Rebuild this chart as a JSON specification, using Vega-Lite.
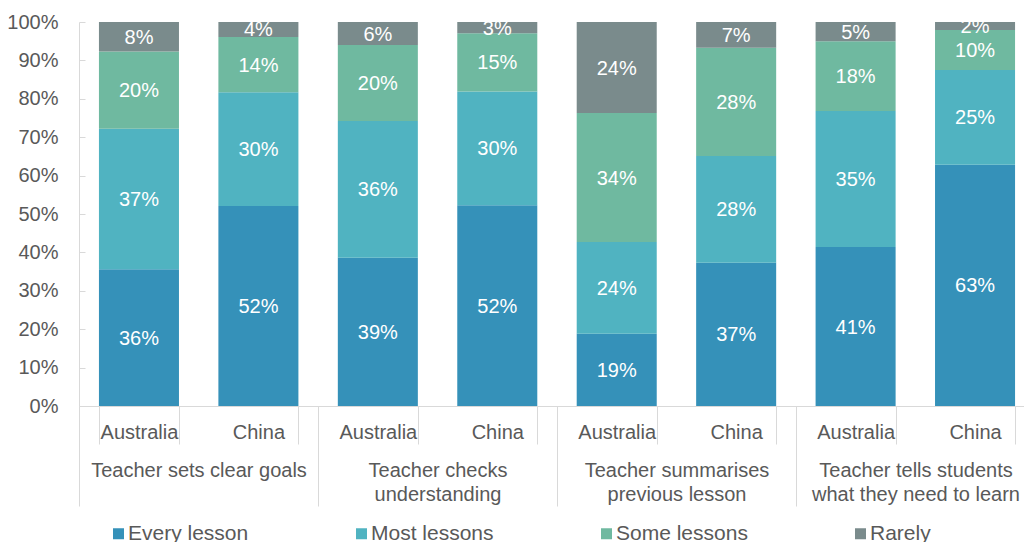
{
  "$schema": "https://vega.github.io/schema/vega-lite/v6.json",
  "width": 945,
  "height": 384,
  "autosize": {"type": "none"},
  "padding": {"left": 79, "top": 22, "right": 0, "bottom": 136},
  "config": {
    "view": {"stroke": null},
    "font": "Liberation Sans",
    "axis": {"labelFont": "Liberation Sans", "labelColor": "#595959", "labelFontSize": 20, "domainColor": "#d9d9d9", "tickColor": "#d9d9d9", "grid": false, "title": null, "labelLimit": 0, "labelOverlap": false}
  },
  "data": {
    "values": [
      {"group": "Teacher sets clear goals", "bar": "1 Australia", "freq": "Every lesson", "ord": 1, "value": 0.356},
      {"group": "Teacher sets clear goals", "bar": "1 Australia", "freq": "Most lessons", "ord": 2, "value": 0.366},
      {"group": "Teacher sets clear goals", "bar": "1 Australia", "freq": "Some lessons", "ord": 3, "value": 0.201},
      {"group": "Teacher sets clear goals", "bar": "1 Australia", "freq": "Rarely", "ord": 4, "value": 0.077},
      {"group": "Teacher sets clear goals", "bar": "1 China", "freq": "Every lesson", "ord": 1, "value": 0.521},
      {"group": "Teacher sets clear goals", "bar": "1 China", "freq": "Most lessons", "ord": 2, "value": 0.296},
      {"group": "Teacher sets clear goals", "bar": "1 China", "freq": "Some lessons", "ord": 3, "value": 0.144},
      {"group": "Teacher sets clear goals", "bar": "1 China", "freq": "Rarely", "ord": 4, "value": 0.039},
      {"group": "Teacher checks|understanding", "bar": "2 Australia", "freq": "Every lesson", "ord": 1, "value": 0.386},
      {"group": "Teacher checks|understanding", "bar": "2 Australia", "freq": "Most lessons", "ord": 2, "value": 0.356},
      {"group": "Teacher checks|understanding", "bar": "2 Australia", "freq": "Some lessons", "ord": 3, "value": 0.198},
      {"group": "Teacher checks|understanding", "bar": "2 Australia", "freq": "Rarely", "ord": 4, "value": 0.060},
      {"group": "Teacher checks|understanding", "bar": "2 China", "freq": "Every lesson", "ord": 1, "value": 0.523},
      {"group": "Teacher checks|understanding", "bar": "2 China", "freq": "Most lessons", "ord": 2, "value": 0.296},
      {"group": "Teacher checks|understanding", "bar": "2 China", "freq": "Some lessons", "ord": 3, "value": 0.152},
      {"group": "Teacher checks|understanding", "bar": "2 China", "freq": "Rarely", "ord": 4, "value": 0.029},
      {"group": "Teacher summarises|previous lesson", "bar": "3 Australia", "freq": "Every lesson", "ord": 1, "value": 0.188},
      {"group": "Teacher summarises|previous lesson", "bar": "3 Australia", "freq": "Most lessons", "ord": 2, "value": 0.239},
      {"group": "Teacher summarises|previous lesson", "bar": "3 Australia", "freq": "Some lessons", "ord": 3, "value": 0.336},
      {"group": "Teacher summarises|previous lesson", "bar": "3 Australia", "freq": "Rarely", "ord": 4, "value": 0.237},
      {"group": "Teacher summarises|previous lesson", "bar": "3 China", "freq": "Every lesson", "ord": 1, "value": 0.373},
      {"group": "Teacher summarises|previous lesson", "bar": "3 China", "freq": "Most lessons", "ord": 2, "value": 0.278},
      {"group": "Teacher summarises|previous lesson", "bar": "3 China", "freq": "Some lessons", "ord": 3, "value": 0.282},
      {"group": "Teacher summarises|previous lesson", "bar": "3 China", "freq": "Rarely", "ord": 4, "value": 0.067},
      {"group": "Teacher tells students|what they need to learn", "bar": "4 Australia", "freq": "Every lesson", "ord": 1, "value": 0.414},
      {"group": "Teacher tells students|what they need to learn", "bar": "4 Australia", "freq": "Most lessons", "ord": 2, "value": 0.354},
      {"group": "Teacher tells students|what they need to learn", "bar": "4 Australia", "freq": "Some lessons", "ord": 3, "value": 0.182},
      {"group": "Teacher tells students|what they need to learn", "bar": "4 Australia", "freq": "Rarely", "ord": 4, "value": 0.050},
      {"group": "Teacher tells students|what they need to learn", "bar": "4 China", "freq": "Every lesson", "ord": 1, "value": 0.628},
      {"group": "Teacher tells students|what they need to learn", "bar": "4 China", "freq": "Most lessons", "ord": 2, "value": 0.247},
      {"group": "Teacher tells students|what they need to learn", "bar": "4 China", "freq": "Some lessons", "ord": 3, "value": 0.104},
      {"group": "Teacher tells students|what they need to learn", "bar": "4 China", "freq": "Rarely", "ord": 4, "value": 0.021}
    ]
  },
  "layer": [
    {
      "layer": [
        {
          "mark": {"type": "bar"},
          "encoding": {
            "x": {
              "field": "bar", "type": "nominal", "sort": null,
              "scale": {"type": "band", "paddingInner": 0.33, "paddingOuter": 0.167, "range": [0, 956]},
              "axis": {"orient": "bottom", "labelAngle": 0, "tickBand": "extent", "tickSize": 38, "labelPadding": -22, "labelExpr": "slice(datum.label, 2)"}
            },
            "y": {
              "field": "value", "type": "quantitative", "stack": "zero",
              "scale": {"domain": [0, 1], "nice": false},
              "axis": {"format": ".0%", "values": [0, 0.1, 0.2, 0.3, 0.4, 0.5, 0.6, 0.7, 0.8, 0.9, 1], "labelOverlap": false, "labelBound": false, "tickSize": -6, "labelPadding": 27}
            },
            "color": {
              "field": "freq", "type": "nominal",
              "scale": {"domain": ["Every lesson", "Most lessons", "Some lessons", "Rarely"], "range": ["#3591b9", "#50b3c1", "#6fb9a0", "#7a8b8c"]},
              "legend": {"orient": "none", "legendX": 29, "legendY": 501, "direction": "horizontal", "title": null, "symbolType": "square", "symbolSize": 121, "symbolStrokeWidth": 0, "labelFontSize": 21, "labelColor": "#595959", "labelFont": "Liberation Sans", "columnPadding": 102, "labelOffset": -1, "labelLimit": 0}
            },
            "order": {"field": "ord", "type": "quantitative"}
          }
        },
        {
          "mark": {"type": "text", "color": "white", "fontSize": 20, "baseline": "middle", "dy": 1},
          "encoding": {
            "x": {"field": "bar", "type": "nominal", "sort": null, "scale": {"type": "band"}},
            "y": {
              "field": "value", "type": "quantitative", "stack": "zero", "bandPosition": 0.5,
              "axis": {"format": ".0%", "values": [0, 0.1, 0.2, 0.3, 0.4, 0.5, 0.6, 0.7, 0.8, 0.9, 1], "labelOverlap": false, "labelBound": false, "tickSize": -6, "labelPadding": 27}
            },
            "text": {"field": "value", "type": "quantitative", "format": ".0%"},
            "order": {"field": "ord", "type": "quantitative"}
          }
        }
      ]
    },
    {
      "mark": {"type": "text"},
      "encoding": {
        "x": {
          "field": "group", "type": "nominal", "sort": null,
          "scale": {"type": "band", "paddingInner": 0, "paddingOuter": 0, "range": [0, 956]},
          "axis": {"orient": "bottom", "labelAngle": 0, "tickBand": "extent", "tickSize": 100, "labelPadding": -46, "domain": false, "labelExpr": "split(datum.label, '|')", "labelLineHeight": 24}
        },
        "text": {"value": ""}
      }
    }
  ],
  "resolve": {"scale": {"x": "independent"}, "axis": {"x": "independent"}}
}
